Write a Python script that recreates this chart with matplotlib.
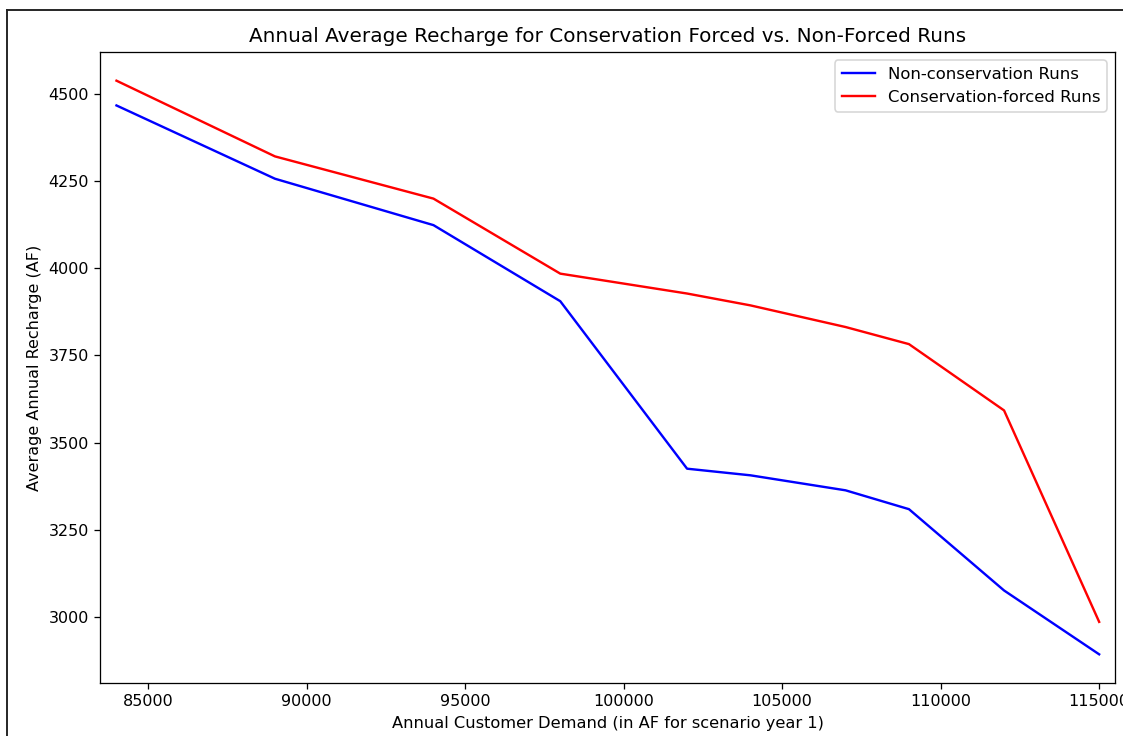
import matplotlib

matplotlib.use("Agg")
import matplotlib.pyplot as plt
from matplotlib.lines import Line2D

demand = [84000, 89000, 94000, 98000, 102000, 104000, 107000, 109000, 112000, 115000]
non_conservation = [4466, 4256, 4123, 3905, 3425, 3406, 3363, 3309, 3076, 2893]
conservation_forced = [4537, 4320, 4199, 3984, 3927, 3893, 3831, 3782, 3592, 2986]

W, H, DPI = 1123, 736, 115
fig = plt.figure(figsize=(W / DPI, H / DPI), dpi=DPI)
ax = fig.add_axes([100 / W, 1 - 683 / H, (1115 - 100) / W, (683 - 52) / H])

ax.plot(demand, non_conservation, color="blue", label="Non-conservation Runs")
ax.plot(demand, conservation_forced, color="red", label="Conservation-forced Runs")

ax.set_xlim(83480, 115500)
ax.set_title("Annual Average Recharge for Conservation Forced vs. Non-Forced Runs",
             fontsize=12.5)
ax.set_xlabel("Annual Customer Demand (in AF for scenario year 1)", fontsize=10.2)
ax.set_ylabel("Average Annual Recharge (AF)")
ax.legend(loc="upper right", fontsize=10.3)

# frame of the notebook output cell
fig.add_artist(Line2D([7 / W, 7 / W], [0, 1 - 10 / H], transform=fig.transFigure,
                      color="#222222", linewidth=1.2))
fig.add_artist(Line2D([7 / W, 1], [1 - 10 / H, 1 - 10 / H], transform=fig.transFigure,
                      color="#222222", linewidth=1.2))

fig.savefig("out.png", dpi=DPI)
plt.close(fig)
